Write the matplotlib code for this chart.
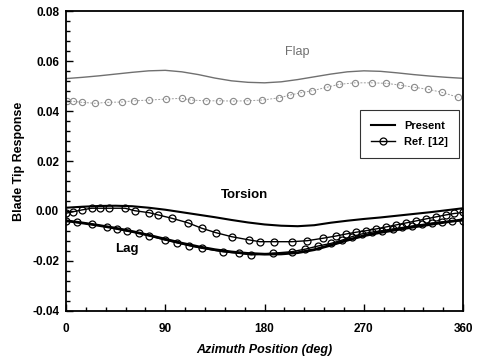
import matplotlib.pyplot as plt
from matplotlib.ticker import MultipleLocator

plt.rcParams['font.family'] = ['Liberation Sans', 'DejaVu Sans']

# Present results, every 15 deg
psi = [0, 15, 30, 45, 60, 75, 90, 105, 120, 135, 150, 165, 180,
       195, 210, 225, 240, 255, 270, 285, 300, 315, 330, 345, 360]
flap_present = [0.0530, 0.0535, 0.0541, 0.0548, 0.0555, 0.0561, 0.0563, 0.0557, 0.0546,
                0.0532, 0.0521, 0.0515, 0.0513, 0.0517, 0.0526, 0.0537, 0.0548, 0.0557,
                0.0561, 0.0559, 0.0553, 0.0546, 0.0540, 0.0535, 0.0531]
torsion_present = [0.0013, 0.0017, 0.0020, 0.0021, 0.0019, 0.0013, 0.0005, -0.0005, -0.0015,
                   -0.0025, -0.0036, -0.0046, -0.0054, -0.0059, -0.0061, -0.0057, -0.0047,
                   -0.0039, -0.0032, -0.0026, -0.0019, -0.0012, -0.0005, 0.0003, 0.0011]
lag_present = [-0.0039, -0.0048, -0.0058, -0.0069, -0.0082, -0.0097, -0.0113, -0.0129, -0.0143,
               -0.0155, -0.0164, -0.0170, -0.0173, -0.0172, -0.0167, -0.0155, -0.0137, -0.0117,
               -0.0099, -0.0086, -0.0075, -0.0064, -0.0054, -0.0044, -0.0035]

# Ref. [12] points
flap_ref_psi = [0.6, 6.6, 14.2, 26.3, 38.3, 50.4, 61.6, 75.5, 90.6, 104.8, 113.2, 126.8, 138.9,
                151.6, 164.3, 177.9, 193.3, 203, 212.7, 222.7, 236.3, 247.7, 261.9, 277.6,
                290, 302.7, 315.7, 328.4, 340.5, 355.6]
flap_ref = [0.0441, 0.0439, 0.0435, 0.0431, 0.0435, 0.0436, 0.0441, 0.0444, 0.0448, 0.0451,
            0.0444, 0.0441, 0.0441, 0.0440, 0.0441, 0.0444, 0.0453, 0.0464, 0.0473, 0.0481,
            0.0495, 0.0507, 0.0513, 0.0513, 0.0511, 0.0504, 0.0495, 0.0487, 0.0475, 0.0455]

torsion_ref_psi = [0, 6.6, 14.2, 23.3, 30.8, 39.2, 53.5, 62.5, 75.5, 83.7, 95.8, 110.3, 123,
                   136, 150.2, 166.1, 175.8, 188.5, 204.6, 218.7, 233.2, 245, 254, 263, 272,
                   281, 290, 299, 308, 317, 326, 335, 344, 352, 360]
torsion_ref = [-0.0009, -0.0003, 0.0004, 0.0011, 0.0011, 0.0011, 0.0011, 0.0001, -0.0007,
               -0.0016, -0.0029, -0.0047, -0.0069, -0.0087, -0.0103, -0.0116, -0.0123, -0.0123,
               -0.0123, -0.0119, -0.0109, -0.0100, -0.0092, -0.0085, -0.0079, -0.0072, -0.0064,
               -0.0056, -0.0048, -0.0040, -0.0032, -0.0024, -0.0016, -0.0010, -0.0006]

lag_ref_psi = [0, 9.7, 23.3, 36.9, 45.9, 55, 66.4, 75.5, 89.7, 100.3, 111.7, 123, 142, 157,
               168, 188, 204.6, 216.7, 228.7, 240, 250, 259, 268, 277, 286, 296, 305, 314,
               323, 332, 341, 350, 360]
lag_ref = [-0.0039, -0.0045, -0.0053, -0.0063, -0.0072, -0.0080, -0.0089, -0.0099, -0.0116,
           -0.0127, -0.0139, -0.0149, -0.0163, -0.0169, -0.0176, -0.0169, -0.0163, -0.0153,
           -0.0140, -0.0130, -0.0117, -0.0103, -0.0092, -0.0085, -0.0079, -0.0072, -0.0066,
           -0.0060, -0.0054, -0.0048, -0.0044, -0.0041, -0.0039]

fig = plt.figure(figsize=(4.78, 3.59), dpi=100)
ax = fig.add_axes([0.138, 0.134, 0.831, 0.835])

ref_style = dict(marker='o', markersize=5, markerfacecolor='none', markeredgewidth=0.9)

# flap (grey in the scan)
ax.plot(psi, flap_present, color='#707070', lw=1.0)
ax.plot(flap_ref_psi, flap_ref, color='#a0a0a0', lw=0.7, ls=(0, (2, 1.5)),
        marker='o', markersize=4.5, markerfacecolor='none', markeredgewidth=0.8,
        markeredgecolor='#8a8a8a')

# torsion and lag
ax.plot(psi, torsion_present, color='black', lw=1.5)
ax.plot(psi, lag_present, color='black', lw=2.0)
ax.plot(torsion_ref_psi, torsion_ref, color='black', lw=1.0, markeredgecolor='black', **ref_style)
ax.plot(lag_ref_psi, lag_ref, color='black', lw=1.0, markeredgecolor='black', **ref_style)

ax.text(0.583, 0.865, 'Flap', transform=ax.transAxes, fontsize=9, color='#707070',
        ha='center', va='center')
ax.text(0.45, 0.385, 'Torsion', transform=ax.transAxes, fontsize=9.5, fontweight='bold',
        ha='center', va='center')
ax.text(0.153, 0.205, 'Lag', transform=ax.transAxes, fontsize=9.5, fontweight='bold',
        ha='center', va='center')

# legend
h1, = ax.plot([], [], color='black', lw=1.5)
h2, = ax.plot([], [], color='black', lw=1.0, markeredgecolor='black', **ref_style)
leg = ax.legend([h1, h2], ['Present', 'Ref. [12]'], loc='upper right',
                bbox_to_anchor=(0.99, 0.67), borderaxespad=0,
                prop={'weight': 'bold', 'size': 8},
                frameon=True, fancybox=False, edgecolor='black', handlelength=2.2,
                borderpad=1.0, labelspacing=0.5)
leg.get_frame().set_linewidth(0.8)

ax.set_xlim(0, 360)
ax.set_ylim(-0.04, 0.08)
ax.xaxis.set_major_locator(MultipleLocator(90))
ax.xaxis.set_minor_locator(MultipleLocator(18))
ax.yaxis.set_minor_locator(MultipleLocator(0.004))
ax.set_yticks([-0.04, -0.02, 0.00, 0.02, 0.04, 0.06, 0.08])
ax.set_yticklabels(['-0.04', '-0.02', '0.00', '0.02', '0.04', '0.06', '0.08'])
ax.tick_params(which='both', direction='in', top=False, right=False, width=1)
ax.tick_params(which='major', length=5, labelsize=8.5)
ax.tick_params(axis='x', which='major', pad=9)
ax.tick_params(axis='y', which='major', pad=5)
ax.tick_params(which='minor', length=3)
for lab in ax.get_xticklabels() + ax.get_yticklabels():
    lab.set_fontweight('bold')
for s in ax.spines.values():
    s.set_linewidth(1.3)

ax.set_xlabel('Azimuth Position (deg)', fontsize=9, fontweight='bold', fontstyle='italic',
              labelpad=6)
ax.set_ylabel('Blade Tip Response', fontsize=9, fontweight='bold', labelpad=5)

fig.savefig('out.png', dpi=100)
